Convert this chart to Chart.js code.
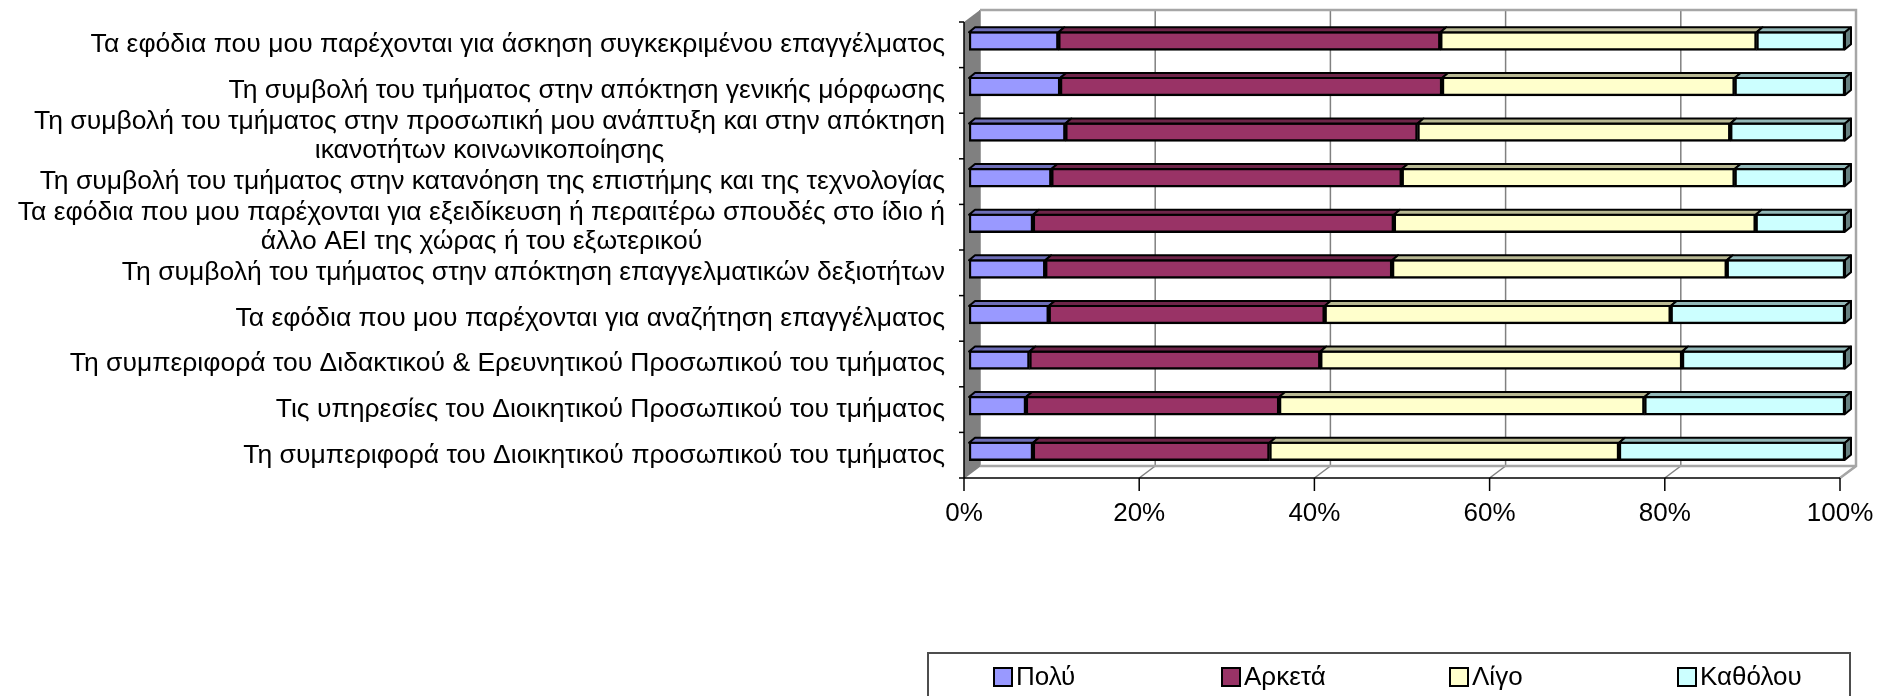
<!DOCTYPE html>
<html>
<head>
<meta charset="utf-8">
<script src="https://cdn.jsdelivr.net/npm/chart.js@4.4.1/dist/chart.umd.min.js"></script>
<style>
  html, body { margin: 0; padding: 0; background: #fff; }
  #wrap { width: 1892px; height: 696px; }
</style>
</head>
<body>
<div id="wrap"><canvas id="chart" width="1892" height="696"></canvas></div>
<script>
const categories = [
    'Τα εφόδια που μου παρέχονται για άσκηση συγκεκριμένου επαγγέλματος',
    'Τη συμβολή του τμήματος στην απόκτηση γενικής μόρφωσης',
    ['Τη συμβολή του τμήματος στην προσωπική μου ανάπτυξη και στην απόκτηση', 'ικανοτήτων κοινωνικοποίησης'],
    'Τη συμβολή του τμήματος στην κατανόηση της επιστήμης και της τεχνολογίας',
    ['Τα εφόδια που μου παρέχονται για εξειδίκευση ή περαιτέρω σπουδές στο ίδιο ή', 'άλλο ΑΕΙ της χώρας ή του εξωτερικού'],
    'Τη συμβολή του τμήματος στην απόκτηση επαγγελματικών δεξιοτήτων',
    'Τα εφόδια που μου παρέχονται για αναζήτηση επαγγέλματος',
    'Τη συμπεριφορά του Διδακτικού & Ερευνητικού Προσωπικού του τμήματος',
    'Τις υπηρεσίες του Διοικητικού Προσωπικού του τμήματος',
    'Τη συμπεριφορά του Διοικητικού προσωπικού του τμήματος'
];
const seriesNames = ['Πολύ', 'Αρκετά', 'Λίγο', 'Καθόλου'];
const polu     = [10.2, 10.4, 11.0,  9.4,  7.3,  8.7,  9.1,  6.9,  6.5,  7.3];
const arketa   = [43.6, 43.6, 40.2, 40.0, 41.2, 39.6, 31.5, 33.2, 28.9, 27.0];
const ligo     = [36.1, 33.4, 35.7, 38.0, 41.3, 38.2, 39.5, 41.3, 41.7, 39.9];
const katholou = [10.1, 12.6, 13.1, 12.6, 10.2, 13.5, 19.9, 18.6, 22.9, 25.8];
const xTicks = [0, 20, 40, 60, 80, 100];

const FONT = '"Liberation Sans", Arial, sans-serif';
const LABEL_SIZE = 26.5;
const TEXT_SIZE = 26;
const colors = ['#9999FF', '#993366', '#FFFFCC', '#CCFFFF'];

// offsets of the front plane and back wall relative to the bar plane
const FRONT = { dx: -5, dy: 4 };
const BACK = { dx: 11, dy: -8 };
const BAR_DEPTH = { dx: 6, dy: -5 };

function shade(hex, f) {
    const n = parseInt(hex.slice(1), 16);
    const r = Math.round(((n >> 16) & 255) * f);
    const g = Math.round(((n >> 8) & 255) * f);
    const b = Math.round((n & 255) * f);
    return `rgb(${r},${g},${b})`;
}

function line(ctx, x1, y1, x2, y2) {
    ctx.beginPath();
    ctx.moveTo(x1, y1);
    ctx.lineTo(x2, y2);
    ctx.stroke();
}

// walls, floor, gridlines and axis lines
const frame3d = {
    id: 'frame3d',
    beforeDatasetsDraw(chart) {
        const { ctx, chartArea: a, scales: { x } } = chart;
        const fl = a.left + FRONT.dx, fr = a.right + FRONT.dx;
        const ft = a.top + FRONT.dy, fb = a.bottom + FRONT.dy;
        const bl = a.left + BACK.dx, br = a.right + BACK.dx;
        const bt = a.top + BACK.dy, bb = a.bottom + BACK.dy;
        ctx.save();

        // gridlines on the back wall
        ctx.strokeStyle = '#808080';
        ctx.lineWidth = 1.5;
        xTicks.forEach(v => {
            const px = x.getPixelForValue(v) + BACK.dx;
            line(ctx, px, bt, px, bb);
        });

        // floor
        ctx.beginPath();
        ctx.moveTo(fl, fb); ctx.lineTo(bl, bb); ctx.lineTo(br, bb); ctx.lineTo(fr, fb);
        ctx.closePath();
        ctx.fillStyle = '#ffffff';
        ctx.fill();
        ctx.strokeStyle = '#808080';
        ctx.lineWidth = 1.5;
        xTicks.forEach(v => {
            const px = x.getPixelForValue(v);
            line(ctx, px + FRONT.dx, fb, px + BACK.dx, bb);
        });

        // back wall outline
        ctx.strokeStyle = '#a6a6a6';
        ctx.lineWidth = 2.5;
        ctx.beginPath();
        ctx.moveTo(bl, bt); ctx.lineTo(br, bt); ctx.lineTo(br, bb); ctx.lineTo(fr, fb);
        ctx.stroke();
        line(ctx, bl, bb, br, bb);

        // side wall
        ctx.fillStyle = '#808080';
        ctx.beginPath();
        ctx.moveTo(fl, ft); ctx.lineTo(bl, bt); ctx.lineTo(bl, bb); ctx.lineTo(fl, fb);
        ctx.closePath();
        ctx.fill();

        // front axes with tick marks
        ctx.strokeStyle = '#000000';
        ctx.lineWidth = 1.5;
        line(ctx, fl, ft, fl, fb);
        line(ctx, fl, fb, fr, fb);
        const n = categories.length;
        const band = (a.bottom - a.top) / n;
        for (let k = 0; k <= n; k++) {
            const py = ft + k * band;
            line(ctx, fl - 5, py, fl, py);
        }
        xTicks.forEach(v => {
            const px = x.getPixelForValue(v) + FRONT.dx;
            line(ctx, px, fb, px, fb + 13);
        });
        ctx.restore();
    }
};

// top and end faces of the bars
const barFaces = {
    id: 'barFaces',
    afterDatasetsDraw(chart) {
        const ctx = chart.ctx;
        const last = chart.data.datasets.length - 1;
        ctx.save();
        ctx.strokeStyle = '#000000';
        ctx.lineWidth = 2;
        ctx.lineJoin = 'round';
        chart.data.datasets.forEach((ds, di) => {
            chart.getDatasetMeta(di).data.forEach(bar => {
                const { x: xe, y: yc, base, height } = bar.getProps(['x', 'y', 'base', 'height'], true);
                const top = yc - height / 2 + 1, bottom = yc + height / 2 - 1;
                ctx.fillStyle = shade(ds.backgroundColor, 0.72);
                ctx.beginPath();
                ctx.moveTo(base, top);
                ctx.lineTo(base + BAR_DEPTH.dx, top + BAR_DEPTH.dy);
                ctx.lineTo(xe + BAR_DEPTH.dx, top + BAR_DEPTH.dy);
                ctx.lineTo(xe, top);
                ctx.closePath();
                ctx.fill();
                ctx.stroke();
                if (di === last) {
                    ctx.fillStyle = shade(ds.backgroundColor, 0.5);
                    ctx.beginPath();
                    ctx.moveTo(xe, top);
                    ctx.lineTo(xe + BAR_DEPTH.dx, top + BAR_DEPTH.dy);
                    ctx.lineTo(xe + BAR_DEPTH.dx, bottom + BAR_DEPTH.dy);
                    ctx.lineTo(xe, bottom);
                    ctx.closePath();
                    ctx.fill();
                    ctx.stroke();
                }
            });
        });
        ctx.restore();
    }
};

// category labels, right aligned, wrapped lines centred on each other
const categoryLabels = {
    id: 'categoryLabels',
    afterDraw(chart) {
        const { ctx, chartArea: a, scales: { y } } = chart;
        const right = a.left - 24;
        const lh = 29;
        ctx.save();
        ctx.font = `${LABEL_SIZE}px ${FONT}`;
        ctx.fillStyle = '#000000';
        ctx.textAlign = 'center';
        ctx.textBaseline = 'middle';
        chart.data.labels.forEach((lab, i) => {
            const lines = Array.isArray(lab) ? lab : [lab];
            const w = Math.max(...lines.map(s => ctx.measureText(s).width));
            const cx = right - w / 2;
            const cy = y.getPixelForValue(i) + FRONT.dy;
            lines.forEach((s, j) => {
                ctx.fillText(s, cx, cy + (j - (lines.length - 1) / 2) * lh);
            });
        });
        ctx.restore();
    }
};

// boxed legend below the plot
const boxLegend = {
    id: 'boxLegend',
    afterDraw(chart) {
        const ctx = chart.ctx;
        const box = { left: 928, top: 653, right: 1850, bottom: 720 };
        const firstX = 994, step = 228, cy = 677, sq = 18;
        ctx.save();
        ctx.strokeStyle = '#4d4d4d';
        ctx.lineWidth = 2;
        ctx.strokeRect(box.left, box.top, box.right - box.left, box.bottom - box.top);
        ctx.font = `${TEXT_SIZE}px ${FONT}`;
        ctx.textBaseline = 'middle';
        ctx.textAlign = 'left';
        chart.data.datasets.forEach((ds, i) => {
            const lx = firstX + i * step;
            ctx.fillStyle = ds.backgroundColor;
            ctx.fillRect(lx, cy - sq / 2, sq, sq);
            ctx.strokeStyle = '#000000';
            ctx.lineWidth = 2;
            ctx.strokeRect(lx, cy - sq / 2, sq, sq);
            ctx.fillStyle = '#000000';
            ctx.fillText(ds.label, lx + sq + 4, cy + 1);
        });
        ctx.restore();
    }
};

const values = [polu, arketa, ligo, katholou];

new Chart(document.getElementById('chart'), {
    type: 'bar',
    data: {
        labels: categories,
        datasets: seriesNames.map((name, i) => ({
            label: name,
            data: values[i],
            backgroundColor: colors[i],
            borderColor: '#000000',
            borderWidth: 2.5,
            borderSkipped: false,
            barThickness: 19
        }))
    },
    options: {
        indexAxis: 'y',
        responsive: false,
        animation: false,
        layout: { padding: { top: 18, right: 47, left: 0, bottom: 0 } },
        plugins: {
            legend: { display: false },
            tooltip: { enabled: false }
        },
        scales: {
            x: {
                stacked: true,
                min: 0,
                max: 100,
                border: { display: false },
                grid: { display: false, drawTicks: false },
                afterBuildTicks: s => { s.ticks = xTicks.map(v => ({ value: v })); },
                afterFit: s => {
                    s.height = 222;
                    s.paddingLeft = 0;
                    s.paddingRight = 0;
                },
                ticks: {
                    padding: 24,
                    labelOffset: FRONT.dx,
                    color: '#000000',
                    font: { family: FONT, size: TEXT_SIZE },
                    callback: v => v + '%'
                }
            },
            y: {
                stacked: true,
                border: { display: false },
                grid: { display: false, drawTicks: false },
                afterFit: s => { s.width = 969; },
                ticks: { display: false }
            }
        }
    },
    plugins: [frame3d, barFaces, categoryLabels, boxLegend]
});
</script>
</body>
</html>
